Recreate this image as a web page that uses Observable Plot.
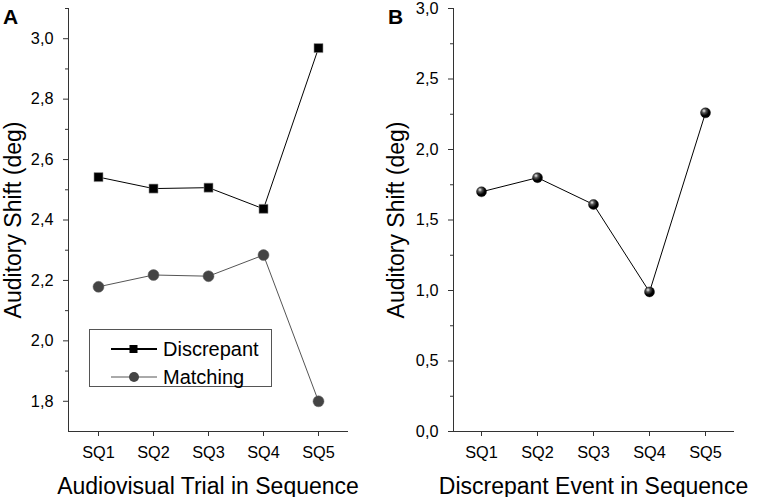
<!DOCTYPE html>
<html><head><meta charset="utf-8">
<script src="https://cdn.jsdelivr.net/npm/d3@7"></script>
<script src="https://cdn.jsdelivr.net/npm/@observablehq/plot@0.6"></script>
<style>
body{margin:0;background:#fff;font-family:"Liberation Sans",Arial,sans-serif;}
#wrap{position:relative;width:767px;height:497px;}
#wrap > svg, #wrap > div{position:absolute;top:0;}
.plabel{position:absolute;font-weight:bold;font-size:21px;font-family:"Liberation Sans",Arial,sans-serif;}
#wrap g[aria-label$="tick label"]{font-size:16.3px !important;}
#wrap g[aria-label$="tick label"] text{font-size:16.3px !important;}
</style></head><body><div id="wrap"></div>
<script>
// ---- data ----
const categories = ["SQ1", "SQ2", "SQ3", "SQ4", "SQ5"];
const discrepant = [2.542, 2.504, 2.507, 2.437, 2.969];
const matching = [2.179, 2.218, 2.214, 2.284, 1.80];
const eventShift = [1.70, 1.80, 1.61, 0.99, 2.26];
const ticksA = [1.8, 2.0, 2.2, 2.4, 2.6, 2.8, 3.0];
const minorA = [1.9, 2.1, 2.3, 2.5, 2.7, 2.9, 3.1];
const ticksB = [0, 0.5, 1.0, 1.5, 2.0, 2.5, 3.0];
const minorB = [0.25, 0.75, 1.25, 1.75, 2.25, 2.75];
const seriesNames = ["Discrepant", "Matching"];
const titleA = "Auditory Shift (deg)";
const xTitleA = "Audiovisual Trial in Sequence";
const xTitleB = "Discrepant Event in Sequence";

const dataA = categories.flatMap((c, i) => [
  {cat: c, series: "Discrepant", v: discrepant[i]},
  {cat: c, series: "Matching", v: matching[i]}
]);
const dataB = categories.map((c, i) => ({cat: c, v: eventShift[i]}));

const fmt = d => d.toFixed(1).replace(".", ",");
const font = "Liberation Sans, Arial, sans-serif";
const wrap = document.getElementById("wrap");

function panel({width, marginLeft, marginRight, yDomain, ticks, minor, xTitle, yDx, dots}) {
  return Plot.plot({
    width, height: 497,
    marginLeft, marginRight, marginTop: 8, marginBottom: 66,
    style: {fontFamily: font, fontSize: "15px", color: "#000", background: "transparent", overflow: "visible"},
    x: {type: "point", domain: categories, padding: 0.5},
    y: {domain: yDomain},
    marks: [
      Plot.frame({anchor: "left", stroke: "#333"}),
      Plot.frame({anchor: "bottom", stroke: "#333"}),
      Plot.axisY({ticks, tickFormat: fmt, tickSize: 5, tickPadding: 10, label: null, stroke: "#333", fontSize: 16}),
      Plot.axisY({ticks: minor, tickFormat: () => "", tickSize: 3, label: null, stroke: "#333"}),
      Plot.axisX({tickSize: 5, tickPadding: 10, label: null, stroke: "#333", fontSize: 16}),
      Plot.text([xTitle], {frameAnchor: "bottom", dy: 62, lineAnchor: "bottom", fontSize: 23}),
      Plot.text([titleA], {frameAnchor: "left", textAnchor: "middle", rotate: -90, dx: yDx, fontSize: 23}),
      ...dots
    ]
  });
}

const plotA = panel({
  width: 383, marginLeft: 68, marginRight: 36,
  yDomain: [1.7, 3.1], ticks: ticksA, minor: minorA, xTitle: xTitleA, yDx: -55,
  dots: [
    Plot.line(dataA.filter(d => d.series === "Matching"), {x: "cat", y: "v", stroke: "#555", strokeWidth: 1}),
    Plot.line(dataA.filter(d => d.series === "Discrepant"), {x: "cat", y: "v", stroke: "#000", strokeWidth: 1}),
    Plot.dot(dataA.filter(d => d.series === "Matching"), {x: "cat", y: "v", r: 5.5, fill: "#444", stroke: "#666", strokeWidth: 0.5}),
    Plot.dot(dataA.filter(d => d.series === "Discrepant"), {x: "cat", y: "v", r: 5.1, symbol: "square", fill: "#000", stroke: "#999", strokeWidth: 0.6})
  ]
});

const plotB = panel({
  width: 384, marginLeft: 70, marginRight: 34,
  yDomain: [0, 3], ticks: ticksB, minor: minorB, xTitle: xTitleB, yDx: -57,
  dots: [
    Plot.line(dataB, {x: "cat", y: "v", stroke: "#000", strokeWidth: 1}),
    Plot.dot(dataB, {x: "cat", y: "v", r: 5, fill: "url(#sphere)", stroke: "#000", strokeWidth: 0.4})
  ]
});

// sphere gradient
const defs = d3.select(plotB).insert("defs", ":first-child");
const g = defs.append("radialGradient").attr("id", "sphere")
  .attr("cx", "0.35").attr("cy", "0.3").attr("r", "0.7");
g.append("stop").attr("offset", "0").attr("stop-color", "#f4f4f4");
g.append("stop").attr("offset", "0.3").attr("stop-color", "#555");
g.append("stop").attr("offset", "0.7").attr("stop-color", "#000");
g.append("stop").attr("offset", "1").attr("stop-color", "#000");

plotA.style.left = "0px";
plotB.style.left = "383px";
wrap.appendChild(plotA);
wrap.appendChild(plotB);

// panel letters
for (const [t, x] of [["A", 3], ["B", 388]]) {
  const el = document.createElement("div");
  el.className = "plabel";
  el.textContent = t;
  el.style.left = x + "px";
  el.style.top = "5px";
  wrap.appendChild(el);
}

// legend (panel A)
const leg = d3.select(wrap).append("svg")
  .attr("width", 190).attr("height", 70)
  .style("left", "88px").style("top", "328px").style("overflow", "visible");
leg.append("rect").attr("x", 1.5).attr("y", 1.5).attr("width", 182).attr("height", 57)
  .attr("fill", "#fff").attr("stroke", "#555").attr("stroke-width", 1);
seriesNames.forEach((name, i) => {
  const y = 21 + i * 28;
  const disc = name === "Discrepant";
  leg.append("line").attr("x1", 23).attr("x2", 69).attr("y1", y).attr("y2", y)
    .attr("stroke", disc ? "#000" : "#555").attr("stroke-width", disc ? 2 : 1);
  if (disc) leg.append("rect").attr("x", 41.5).attr("y", y - 4).attr("width", 8).attr("height", 8).attr("fill", "#000");
  else leg.append("circle").attr("cx", 46).attr("cy", y).attr("r", 5).attr("fill", "#444");
  leg.append("text").attr("x", 75).attr("y", y + 7).attr("font-size", 20)
    .attr("font-family", font).text(name);
});
</script></body></html>
